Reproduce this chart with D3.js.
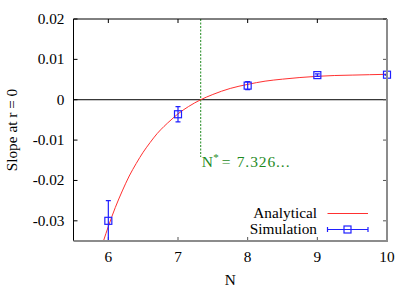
<!DOCTYPE html>
<html>
<head>
<meta charset="utf-8">
<script src="https://cdn.jsdelivr.net/npm/d3@7"></script>
<style>
  body { margin: 0; background: #fff; }
  svg { display: block; }
</style>
</head>
<body>
<div id="chart"></div>
<script>
// Analytical curve
var curveN = [5.93, 6.0, 6.1, 6.2, 6.3, 6.4, 6.5, 6.6, 6.7, 6.8, 6.9, 7.0, 7.15, 7.326, 7.5, 7.75, 8.0, 8.25, 8.5, 8.75, 9.0, 9.25, 9.5, 9.75, 10];
var curveVal = [-0.035, -0.0314, -0.0267, -0.0226, -0.0189, -0.0158, -0.0130, -0.0106, -0.0084, -0.0066, -0.0050, -0.0035, -0.0017, 0, 0.0013, 0.0028, 0.0038, 0.0046, 0.0051, 0.0055, 0.0058, 0.0060, 0.0061, 0.0062, 0.0063];

// Simulation points with error bars
var simN = [6, 7, 8, 9, 10];
var simVal = [-0.030, -0.0036, 0.0035, 0.0061, 0.0062];
var simErr = [0.005, 0.0019, 0.001, 0.0003, 0.0001];

var nStar = 7.326;
var xTicks = [6, 7, 8, 9, 10];
var yTicks = [0.02, 0.01, 0, -0.01, -0.02, -0.03];
var yTickLabels = ["0.02", "0.01", "0", "-0.01", "-0.02", "-0.03"];

var width = 415, height = 291;
var pLeft = 73.5, pRight = 387, pTop = 19, pBottom = 241;

var svg = d3.select("#chart").append("svg")
    .attr("width", width)
    .attr("height", height)
    .attr("font-family", "'Liberation Serif', 'Times New Roman', Times, serif");

var x = d3.scaleLinear().domain([5.5, 10]).range([pLeft, pRight]);
var y = d3.scaleLinear().domain([-0.035, 0.02]).range([pBottom, pTop]);

svg.append("defs").append("clipPath").attr("id", "clip")
    .append("rect")
    .attr("x", pLeft).attr("y", pTop)
    .attr("width", pRight - pLeft).attr("height", pBottom - pTop);

var blue = "#2020ff", red = "#ff3030", green = "#1e8a1e", gray = "#8c8c8c";
var fs = "15.3px";

// zero line
svg.append("line")
    .attr("x1", pLeft).attr("x2", pRight)
    .attr("y1", y(0)).attr("y2", y(0))
    .attr("stroke", "#000").attr("stroke-width", 1);

// ticks (inward)
yTicks.forEach(function(t, i) {
    svg.append("line")
        .attr("x1", pLeft).attr("x2", pLeft + 4)
        .attr("y1", y(t)).attr("y2", y(t))
        .attr("stroke", "#000");
    svg.append("line")
        .attr("x1", pRight - 4).attr("x2", pRight)
        .attr("y1", y(t)).attr("y2", y(t))
        .attr("stroke", "#555");
    svg.append("text")
        .attr("x", pLeft - 9).attr("y", y(t) + 5)
        .attr("text-anchor", "end")
        .attr("font-size", fs)
        .text(yTickLabels[i]);
});

xTicks.forEach(function(t) {
    svg.append("line")
        .attr("x1", x(t)).attr("x2", x(t))
        .attr("y1", pTop).attr("y2", pTop + 4)
        .attr("stroke", "#000");
    svg.append("line")
        .attr("x1", x(t)).attr("x2", x(t))
        .attr("y1", pBottom - 4).attr("y2", pBottom)
        .attr("stroke", "#555");
    svg.append("text")
        .attr("x", x(t)).attr("y", pBottom + 21)
        .attr("text-anchor", "middle")
        .attr("font-size", fs)
        .text(t);
});

// N* dashed line
svg.append("line")
    .attr("x1", x(nStar)).attr("x2", x(nStar))
    .attr("y1", pTop).attr("y2", 157)
    .attr("stroke", green)
    .attr("stroke-width", 1)
    .attr("stroke-dasharray", "2,1.5");

var ann = svg.append("text")
    .attr("y", 167)
    .attr("fill", green)
    .attr("font-size", "15.5px");
ann.append("tspan").attr("x", x(nStar) + 1).text("N");
ann.append("tspan").attr("x", x(nStar) + 12.5).attr("dy", -6.5).attr("font-size", "11px").text("*");
ann.append("tspan").attr("x", x(nStar) + 21).attr("dy", 6.5).text("=");
ann.append("tspan").attr("x", x(nStar) + 36).attr("letter-spacing", "0.9px").text("7.326...");

// analytical curve
var pts = curveN.map(function(n, i) { return [n, curveVal[i]]; });
var line = d3.line()
    .x(function(d) { return x(d[0]); })
    .y(function(d) { return y(d[1]); })
    .curve(d3.curveMonotoneX);

var plot = svg.append("g").attr("clip-path", "url(#clip)");
plot.append("path")
    .attr("d", line(pts))
    .attr("fill", "none")
    .attr("stroke", red)
    .attr("stroke-width", 1);

// simulation points
simN.forEach(function(n, i) {
    var cx = x(n), cy = y(simVal[i]);
    var y1 = y(simVal[i] + simErr[i]), y2 = y(simVal[i] - simErr[i]);
    plot.append("line")
        .attr("x1", cx).attr("x2", cx).attr("y1", y1).attr("y2", y2)
        .attr("stroke", blue).attr("stroke-width", 1.2);
    [y1, y2].forEach(function(yy) {
        plot.append("line")
            .attr("x1", cx - 2.5).attr("x2", cx + 2.5).attr("y1", yy).attr("y2", yy)
            .attr("stroke", blue).attr("stroke-width", 1.2);
    });
    svg.append("rect")
        .attr("x", cx - 3.5).attr("y", cy - 3.5)
        .attr("width", 7).attr("height", 7)
        .attr("fill", "none")
        .attr("stroke", blue).attr("stroke-width", 1.2);
});

// frame: left & top black, right & bottom gray
svg.append("line").attr("x1", pLeft).attr("x2", pLeft).attr("y1", pTop).attr("y2", pBottom)
    .attr("stroke", "#000");
svg.append("line").attr("x1", pLeft).attr("x2", pRight).attr("y1", pTop).attr("y2", pTop)
    .attr("stroke", "#000");
svg.append("line").attr("x1", pRight).attr("x2", pRight).attr("y1", pTop).attr("y2", pBottom + 1)
    .attr("stroke", gray).attr("stroke-width", 2);
svg.append("line").attr("x1", pLeft).attr("x2", pRight).attr("y1", pBottom).attr("y2", pBottom)
    .attr("stroke", gray).attr("stroke-width", 2);

// legend
var lx1 = 327.5, lx2 = 368;
svg.append("text").attr("x", 317).attr("y", 218)
    .attr("text-anchor", "end").attr("font-size", fs).text("Analytical");
svg.append("line").attr("x1", lx1).attr("x2", lx2).attr("y1", 213.5).attr("y2", 213.5)
    .attr("stroke", red).attr("stroke-width", 1);
svg.append("text").attr("x", 317).attr("y", 234)
    .attr("text-anchor", "end").attr("font-size", fs).text("Simulation");
svg.append("line").attr("x1", lx1).attr("x2", lx2).attr("y1", 229.5).attr("y2", 229.5)
    .attr("stroke", blue).attr("stroke-width", 1.2);
[lx1, lx2].forEach(function(xx) {
    svg.append("line").attr("x1", xx).attr("x2", xx).attr("y1", 227).attr("y2", 232)
        .attr("stroke", blue).attr("stroke-width", 1.2);
});
svg.append("rect").attr("x", 347.5 - 3.5).attr("y", 229.5 - 3.5)
    .attr("width", 7).attr("height", 7)
    .attr("fill", "none").attr("stroke", blue).attr("stroke-width", 1.2);

// axis titles
svg.append("text")
    .attr("transform", "translate(17," + ((pTop + pBottom) / 2) + ") rotate(-90)")
    .attr("text-anchor", "middle")
    .attr("font-size", fs)
    .text("Slope at r = 0");
svg.append("text")
    .attr("x", (pLeft + pRight) / 2).attr("y", 285)
    .attr("text-anchor", "middle")
    .attr("font-size", fs)
    .text("N");
</script>
</body>
</html>
